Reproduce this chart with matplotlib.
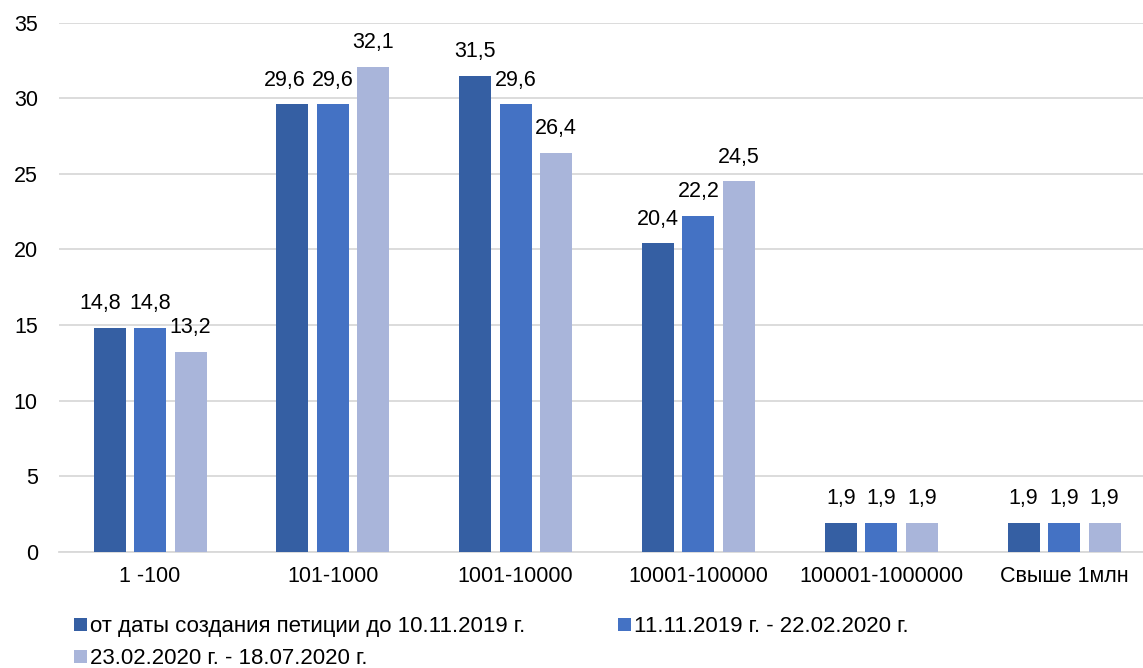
import matplotlib.pyplot as plt
import numpy as np

plt.rcParams['font.family'] = ['Liberation Sans', 'DejaVu Sans']

categories = ['1 -100', '101-1000', '1001-10000', '10001-100000', '100001-1000000', 'Свыше 1млн']
series_names = ['от даты создания петиции до 10.11.2019 г.',
                '11.11.2019 г. - 22.02.2020 г.',
                '23.02.2020 г. - 18.07.2020 г.']
series_1 = [14.8, 29.6, 31.5, 20.4, 1.9, 1.9]
series_2 = [14.8, 29.6, 29.6, 22.2, 1.9, 1.9]
series_3 = [13.2, 32.1, 26.4, 24.5, 1.9, 1.9]
colors = ['#355FA3', '#4472C4', '#A9B5DA']

# small horizontal nudges (px) for labels that would otherwise collide
label_nudge = {(0, 0): -9, (0, 1): -8}

fig = plt.figure(figsize=(11.43, 6.68), dpi=100)
ax = fig.add_axes([0.0513, 0.174, 0.9596, 0.792])

x = np.arange(len(categories))
width = 0.175
step = 0.2216
fs = 15.5
handles = []
for i, (vals, name, c) in enumerate(zip([series_1, series_2, series_3], series_names, colors)):
    bars = ax.bar(x + (i - 1) * step, vals, width, color=c, label=name, zorder=3)
    handles.append(bars)
    for j, (b, v) in enumerate(zip(bars, vals)):
        dx = label_nudge.get((i, j), 0) * 0.72
        ax.annotate(f'{v:.1f}'.replace('.', ','), (b.get_x() + b.get_width() / 2, v),
                    xytext=(dx, 17.5), textcoords='offset points',
                    ha='center', va='center', fontsize=fs)

ax.set_xlim(-0.5, len(categories) - 0.5)
ax.set_ylim(0, 35)
ax.set_yticks(range(0, 36, 5))
ax.set_xticks(x)
ax.set_xticklabels(categories)
ax.tick_params(axis='both', length=0, labelsize=fs)
ax.tick_params(axis='x', pad=10)
ax.tick_params(axis='y', pad=15)
ax.grid(axis='y', color='#D9D9D9', linewidth=1.3, zorder=0)
for s in ['top', 'right', 'left']:
    ax.spines[s].set_visible(False)
ax.spines['bottom'].set_color('#D9D9D9')
ax.spines['bottom'].set_linewidth(1.3)

# legend fills column-first, so reorder to get row-wise layout
order = [0, 2, 1]
fig.legend(handles=[handles[k] for k in order], labels=[series_names[k] for k in order],
           loc='lower left', bbox_to_anchor=(0.0475, -0.032),
           ncol=2, frameon=False, fontsize=16, handlelength=0.55, handleheight=0.55,
           handletextpad=0.15, columnspacing=4.2, labelspacing=0.5)

fig.savefig('out.png', dpi=100)
